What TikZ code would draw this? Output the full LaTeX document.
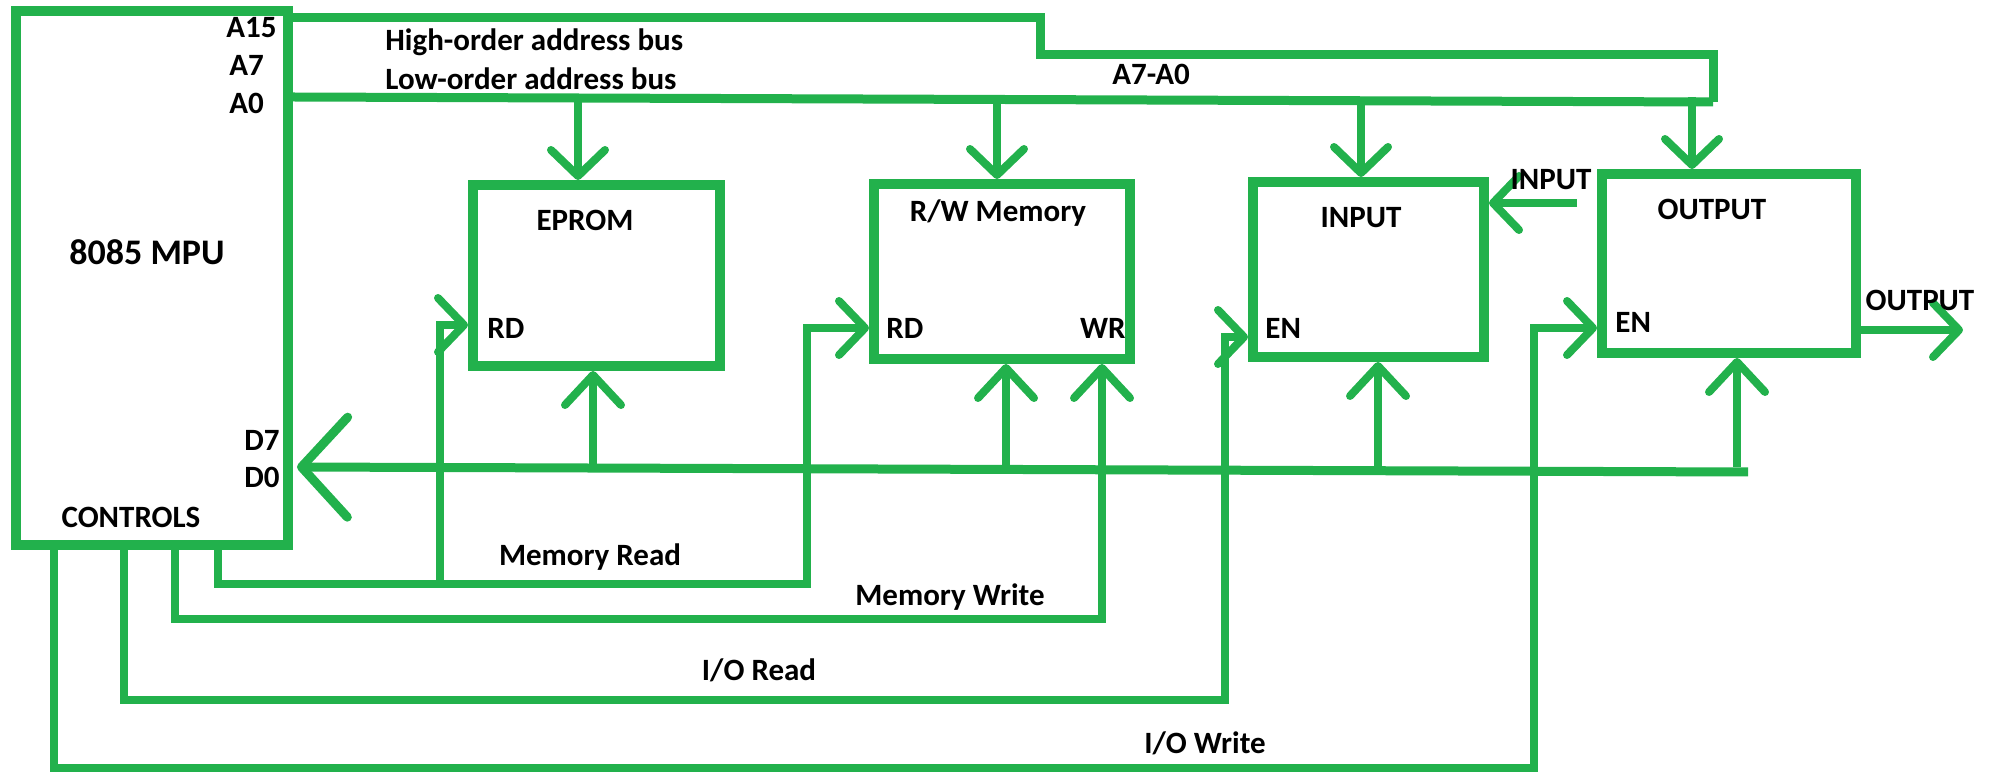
\documentclass[tikz,border=0pt]{standalone}
\usepackage{fontspec}
\setmainfont{Carlito}
\usetikzlibrary{arrows.meta}
\definecolor{pgreen}{RGB}{34,177,76}

\begin{document}
\begin{tikzpicture}[x=0.5pt,y=-0.5pt,
  font=\bfseries\fontsize{15.5}{18}\selectfont,
  blk/.style={draw=pgreen,line width=5pt,inner sep=0pt},
  bus/.style={draw=pgreen,line width=4.5pt},
  sig/.style={draw=pgreen,line width=4pt},
  arr/.style={-{Straight Barb[round,length=13pt,width=27pt]}},
  uparr/.style={-{Straight Barb[round,length=15pt,width=28pt]}},
  bigarr/.style={-{Straight Barb[round,length=23pt,width=50pt]}},
  lbl/.style={inner sep=0pt}]

  \useasboundingbox (0,0) rectangle (1996,774);

  % blocks
  \node[blk,minimum width=136pt,minimum height=267pt] (mpu) at (152,278) {};
  \node[blk,minimum width=123.5pt,minimum height=90.5pt] (eprom) at (596.5,275.5) {};
  \node[blk,minimum width=128pt,minimum height=87.5pt] (rwm) at (1002,271.5) {};
  \node[blk,minimum width=115.5pt,minimum height=87.5pt] (inp) at (1368.5,269.5) {};
  \node[blk,minimum width=127pt,minimum height=89.5pt] (outp) at (1729,263.5) {};

  % pins and rails
  \coordinate (hiA) at ([yshift=-6pt]mpu.north east);
  \coordinate (loA) at ([yshift=-45.5pt]mpu.north east);
  \coordinate (dat) at ([xshift=2pt,yshift=-230.5pt]mpu.north east);
  \coordinate (loEnd) at (1713,102);
  \coordinate (datEnd) at (1748,472);
  \coordinate (rdE) at ([yshift=-24.75pt]eprom.west);
  \coordinate (rdR) at ([yshift=-28.25pt]rwm.west);
  \coordinate (wrR) at ([xshift=50pt]rwm.south);
  \coordinate (enI) at ([yshift=-33.75pt]inp.west);
  \coordinate (enO) at ([yshift=-32.25pt]outp.west);
  \coordinate (cMR) at (218,584);
  \coordinate (cMW) at (175,619);
  \coordinate (cIR) at (124,700);
  \coordinate (cIW) at (54,768);
  \coordinate (inSrc) at ([xshift=-10pt,yshift=30.25pt]outp.west);
  \coordinate (outPin) at ([yshift=-33.25pt]outp.east);
  \coordinate (outEnd) at (1963,330);

  % address bus
  \draw[bus] (hiA) -| (1040,55) -| (loEnd);
  \draw[bus] (loA) -- (loEnd);
  \foreach \b/\dx in {eprom/-9.25pt,rwm/-2.5pt,inp/-3.75pt,outp/-18.5pt}
    \draw[sig,arr] ([xshift=\dx]\b.north |- loA) -- ([xshift=\dx]\b.north);

  % data bus
  \draw[bus,bigarr] (datEnd) -- (dat);
  \foreach \b/\dx in {eprom/-1.75pt,rwm/2pt,inp/4.75pt,outp/4pt}
    \draw[sig,uparr] ([xshift=\dx]\b.south |- dat) -- ([xshift=\dx]\b.south);

  % control lines
  \draw[sig,arr] (mpu.south -| cMR) |- (807,584) |- (rdR);
  \draw[sig,arr] (440,584) |- (rdE);
  \draw[sig,uparr] (mpu.south -| cMW) |- (wrR |- cMW) -- (wrR);
  \draw[sig,arr] (mpu.south -| cIR) |- (1225,700) |- (enI);
  \draw[sig,arr] (mpu.south -| cIW) |- (1534,768) |- (enO);

  % input / output ports
  \draw[sig,arr] (inSrc) -- (inSrc -| inp.east);
  \draw[sig,arr] (outPin) -- (outEnd);

  % labels
  \node[lbl,anchor=west] (tA15) at (226,28) {A15};
  \node[lbl,anchor=west] (tA7) at (229,65) {A7};
  \node[lbl,anchor=west] (tA0) at (229,103) {A0};
  \node[lbl,anchor=west] (tHi) at (385,42) {High-order address bus};
  \node[lbl,anchor=west] (tLo) at (385,79) {Low-order address bus};
  \node[lbl] (tA7A0) at (1151,74) {A7-A0};
  \node[lbl,font=\bfseries\fontsize{18}{21}\selectfont] (tMpu) at (147,252) {8085 MPU};
  \node[lbl] (tCtl) at (131,517) {CONTROLS};
  \node[lbl,anchor=west] (tD7) at (244,440) {D7};
  \node[lbl,anchor=west] (tD0) at (244,477) {D0};
  \node[lbl] (tEprom) at (585,220) {EPROM};
  \node[lbl,anchor=west] (tRdE) at (487,328) {RD};
  \node[lbl] (tRwm) at (998,213) {R/W Memory};
  \node[lbl,anchor=west] (tRdR) at (886,328) {RD};
  \node[lbl,anchor=east] (tWr) at (1126,328) {WR};
  \node[lbl] (tInp) at (1361,218) {INPUT};
  \node[lbl,anchor=west] (tEnI) at (1265,328) {EN};
  \node[lbl] (tOutp) at (1712,209) {OUTPUT};
  \node[lbl,anchor=west] (tEnO) at (1615,322) {EN};
  \node[lbl] (tInX) at (1551,180) {INPUT};
  \node[lbl] (tOutX) at (1920,300) {OUTPUT};
  \node[lbl] (tMR) at (590,557) {Memory Read};
  \node[lbl] (tMW) at (950,597) {Memory Write};
  \node[lbl] (tIR) at (759,670) {I/O Read};
  \node[lbl] (tIW) at (1205,743) {I/O Write};
\end{tikzpicture}
\end{document}
